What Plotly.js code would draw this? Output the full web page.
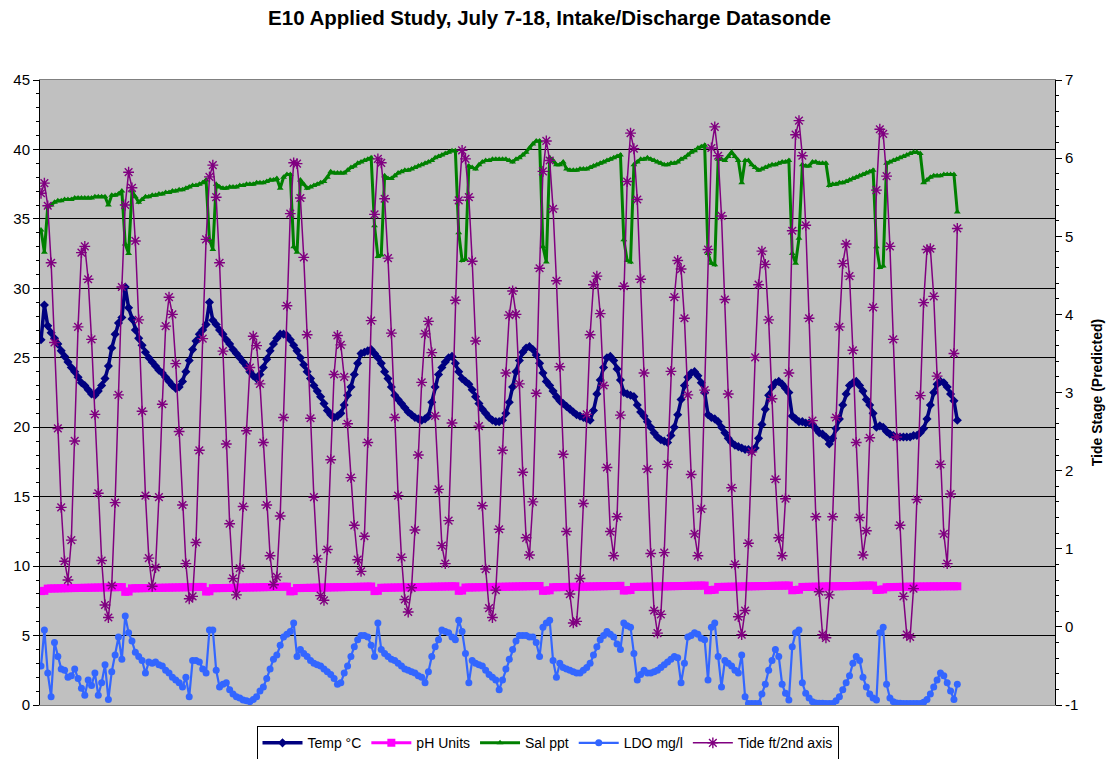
<!DOCTYPE html>
<html>
<head>
<meta charset="utf-8">
<script src="https://cdn.plot.ly/plotly-3.0.1.min.js"></script>
<style>
  html, body { margin:0; padding:0; background:#ffffff; }
  #chart { width:1113px; height:759px; }
</style>
</head>
<body>
<div id="chart"></div>
<script>
// Hourly readings, July 7-18 (index = hours since start of record)
const tideFt = [
 5.55,5.68,5.39,4.66,3.64,2.54,1.53,0.84,0.60,1.11,
 2.38,3.84,4.79,4.87,4.45,3.68,2.72,1.71,0.85,0.28,
 0.12,0.53,1.59,2.97,4.35,5.40,5.82,5.62,4.94,3.93,
 2.76,1.68,0.88,0.52,0.76,1.66,2.85,3.85,4.22,4.00,
 3.37,2.50,1.56,0.81,0.36,0.39,1.08,2.26,3.69,4.96,
 5.76,5.91,5.50,4.66,3.53,2.34,1.32,0.62,0.41,0.75,
 1.54,2.51,3.32,3.72,3.60,3.11,2.36,1.56,0.91,0.54,
 0.64,1.42,2.68,4.11,5.29,5.94,5.93,5.49,4.73,3.74,
 2.67,1.66,0.87,0.40,0.34,0.99,2.14,3.23,3.73,3.61,
 3.20,2.60,1.91,1.30,0.86,0.71,1.16,2.36,3.92,5.28,
 5.99,5.94,5.48,4.72,3.76,2.68,1.68,0.89,0.35,0.19,
 0.50,1.24,2.20,3.13,3.75,3.91,3.51,2.70,1.76,1.04,
 0.81,1.36,2.61,4.18,5.46,6.10,5.99,5.50,4.68,3.66,
 2.57,1.55,0.74,0.24,0.12,0.47,1.25,2.26,3.25,3.99,
 4.30,4.00,3.11,1.98,1.14,0.92,1.60,2.99,4.59,5.83,
 6.22,5.97,5.35,4.43,3.33,2.21,1.22,0.42,0.05,0.07,
 0.62,1.58,2.72,3.74,4.38,4.49,4.01,3.09,2.04,1.22,
 0.91,1.41,2.71,4.36,5.70,6.32,6.12,5.47,4.45,3.25,
 2.02,0.94,0.21,-0.08,0.16,0.95,2.08,3.27,4.22,4.69,
 4.58,3.95,2.97,1.95,1.19,0.91,1.51,3.03,4.83,6.13,
 6.40,6.03,5.26,4.19,2.98,1.78,0.80,0.13,-0.10,0.21,
 1.07,2.24,3.45,4.38,4.81,4.64,3.93,2.92,1.89,1.14,
 0.91,1.64,3.25,5.07,6.30,6.48,6.03,5.14,3.95,2.64,
 1.41,0.45,-0.10,-0.14,0.41,1.41,2.68,3.84,4.65,4.90,
 4.49,3.54,2.36,1.40,0.92,1.23,2.42,4.09,5.59,6.37,
 6.31,5.77,4.87,3.68,2.43,1.30,0.39,-0.10,-0.13,0.49,
 1.63,2.96,4.15,4.83,4.84,4.23,3.21,2.08,1.19,0.81,
 1.70,3.50,5.10
];

const tempC = [
 26.3,28.8,27.3,26.8,26.4,26.0,25.5,25.1,24.7,24.3,
 24.0,23.6,23.2,23.0,22.7,22.4,22.3,22.6,23.0,23.5,
 24.4,25.7,26.7,27.5,27.9,30.1,28.6,27.8,27.0,26.4,
 25.9,25.4,25.0,24.7,24.4,24.1,23.9,23.6,23.3,23.0,
 22.8,22.9,23.3,24.0,24.8,25.6,26.2,26.7,27.0,27.4,
 29.0,27.7,27.4,27.0,26.7,26.3,26.0,25.6,25.3,25.0,
 24.7,24.4,24.0,23.7,23.5,23.8,24.3,24.9,25.5,26.0,
 26.4,26.7,26.7,26.6,26.3,25.9,25.5,25.0,24.5,24.0,
 23.5,23.0,22.6,22.2,21.7,21.2,20.9,20.7,20.8,21.0,
 21.6,22.3,22.9,23.8,24.6,25.3,25.4,25.5,25.6,25.3,
 25.0,24.6,24.0,23.5,22.9,22.3,22.0,21.7,21.4,21.1,
 20.9,20.7,20.6,20.5,20.6,20.8,21.8,22.9,23.8,24.3,
 24.7,25.0,25.1,24.6,24.0,23.5,23.3,23.1,22.7,22.2,
 21.7,21.3,21.0,20.7,20.5,20.4,20.4,20.5,21.0,21.8,
 22.9,24.0,24.8,25.4,25.7,25.8,25.6,25.2,24.6,23.9,
 23.3,23.0,22.6,22.2,21.9,21.7,21.5,21.3,21.1,20.9,
 20.8,20.7,20.6,20.5,21.2,22.4,23.4,24.3,25.0,25.1,
 24.8,24.2,23.4,22.5,22.4,22.3,22.2,21.6,21.1,20.8,
 20.4,20.0,19.6,19.3,19.1,19.0,18.9,19.4,20.0,20.9,
 22.0,23.0,23.6,23.9,24.0,23.7,23.2,22.5,20.9,20.7,
 20.6,20.4,20.0,19.6,19.2,18.9,18.7,18.6,18.5,18.4,
 18.4,18.3,18.5,19.2,20.2,21.3,22.3,22.9,23.2,23.3,
 23.1,22.8,22.5,20.8,20.6,20.4,20.4,20.3,20.3,20.2,
 19.9,19.6,19.5,19.3,18.8,19.2,19.9,20.6,21.6,22.4,
 23.0,23.2,23.3,23.0,22.6,22.0,21.6,21.0,20.0,20.1,
 20.0,19.7,19.5,19.4,19.3,19.3,19.3,19.3,19.3,19.4,
 19.4,19.6,19.9,20.6,21.6,22.5,23.1,23.3,23.2,22.9,
 22.4,21.9,20.5
];

const phUnits = [
 8.20,8.22,8.38,8.39,8.39,8.40,8.40,8.41,8.41,8.42,
 8.42,8.43,8.43,8.44,8.44,8.45,8.45,8.46,8.46,8.47,
 8.47,8.48,8.48,8.49,8.49,8.15,8.17,8.40,8.40,8.41,
 8.41,8.42,8.42,8.43,8.43,8.44,8.44,8.45,8.45,8.46,
 8.46,8.47,8.47,8.48,8.48,8.49,8.49,8.50,8.50,8.17,
 8.19,8.41,8.41,8.42,8.42,8.43,8.43,8.44,8.44,8.45,
 8.45,8.46,8.46,8.47,8.47,8.48,8.48,8.49,8.49,8.50,
 8.50,8.51,8.51,8.52,8.18,8.20,8.42,8.42,8.43,8.43,
 8.44,8.44,8.45,8.45,8.46,8.46,8.47,8.47,8.48,8.48,
 8.49,8.49,8.50,8.50,8.51,8.51,8.52,8.52,8.53,8.20,
 8.22,8.44,8.44,8.45,8.45,8.46,8.46,8.47,8.47,8.48,
 8.48,8.49,8.49,8.50,8.50,8.51,8.51,8.52,8.52,8.53,
 8.53,8.54,8.54,8.55,8.22,8.24,8.46,8.46,8.47,8.47,
 8.48,8.48,8.49,8.49,8.50,8.50,8.51,8.51,8.52,8.52,
 8.53,8.53,8.54,8.54,8.55,8.55,8.56,8.56,8.57,8.22,
 8.24,8.26,8.48,8.48,8.49,8.49,8.50,8.50,8.51,8.51,
 8.52,8.52,8.53,8.53,8.54,8.54,8.55,8.55,8.56,8.56,
 8.57,8.57,8.58,8.24,8.26,8.28,8.50,8.50,8.51,8.51,
 8.52,8.52,8.53,8.53,8.54,8.54,8.55,8.55,8.56,8.56,
 8.57,8.57,8.58,8.58,8.59,8.59,8.60,8.60,8.26,8.28,
 8.30,8.50,8.50,8.51,8.51,8.52,8.52,8.53,8.53,8.54,
 8.54,8.55,8.55,8.56,8.56,8.57,8.57,8.58,8.58,8.59,
 8.59,8.60,8.60,8.26,8.28,8.30,8.50,8.50,8.51,8.51,
 8.52,8.52,8.53,8.53,8.54,8.54,8.55,8.55,8.56,8.56,
 8.57,8.57,8.58,8.58,8.59,8.59,8.60,8.60,8.28,8.30,
 8.32,8.48,8.49,8.49,8.50,8.50,8.51,8.51,8.52,8.52,
 8.52,8.53,8.53,8.53,8.54,8.54,8.54,8.54,8.55,8.55,
 8.55,8.55,8.55
];

const salPpt = [
 34.2,32.6,35.9,36.0,36.2,36.3,36.3,36.4,36.4,36.4,
 36.5,36.5,36.5,36.5,36.5,36.5,36.6,36.6,36.6,36.6,
 36.0,36.7,36.7,36.8,37.0,33.2,32.5,37.0,36.6,36.2,
 36.4,36.6,36.6,36.7,36.7,36.8,36.8,36.9,36.9,37.0,
 37.0,37.1,37.1,37.2,37.3,37.4,37.4,37.5,37.6,37.8,
 33.5,32.8,37.5,37.3,37.2,37.2,37.3,37.3,37.3,37.4,
 37.4,37.5,37.5,37.5,37.6,37.6,37.6,37.7,37.8,37.8,
 37.9,37.2,38.0,38.2,38.2,33.0,32.6,37.8,37.5,37.2,
 37.3,37.4,37.5,37.6,37.7,38.0,38.4,38.3,38.3,38.3,
 38.3,38.5,38.7,38.8,39.0,39.1,39.2,39.3,39.4,34.5,
 32.3,32.4,38.1,37.9,37.9,38.1,38.3,38.4,38.5,38.5,
 38.6,38.7,38.8,38.9,39.0,39.1,39.2,39.4,39.5,39.6,
 39.7,39.8,39.9,39.9,34.0,32.0,32.1,38.8,38.7,38.6,
 38.9,39.1,39.2,39.2,39.3,39.3,39.3,39.3,39.3,39.2,
 39.1,39.3,39.4,39.6,39.8,40.1,40.4,40.6,40.6,33.0,
 31.9,39.4,39.2,38.9,38.9,39.1,38.6,38.5,38.5,38.5,
 38.6,38.6,38.6,38.7,38.8,38.9,39.0,39.1,39.2,39.3,
 39.4,39.5,39.6,33.5,32.0,31.9,38.9,39.1,39.3,39.3,
 39.4,39.3,39.2,39.1,39.0,38.9,38.9,39.0,39.0,39.1,
 39.3,39.4,39.6,39.8,39.9,40.1,40.2,40.3,32.5,31.8,
 31.7,39.3,39.3,39.2,39.5,39.8,39.5,39.2,37.6,39.2,
 39.2,38.9,38.7,38.5,38.6,38.7,38.8,38.9,38.9,39.0,
 39.1,39.1,39.2,32.5,31.8,33.6,38.9,38.8,38.8,39.1,
 39.1,39.0,39.0,39.0,37.4,37.5,37.5,37.6,37.6,37.7,
 37.8,37.9,38.0,38.1,38.2,38.3,38.4,38.5,33.0,31.5,
 31.6,39.0,39.1,39.2,39.3,39.4,39.5,39.6,39.7,39.8,
 39.8,39.7,37.6,37.8,38.0,38.1,38.1,38.1,38.2,38.2,
 38.2,38.2,35.5
];

const ldoMgL = [
 2.8,5.4,2.3,0.6,4.5,3.5,2.6,2.5,2.0,2.1,
 2.6,1.9,1.2,0.7,1.8,1.4,2.3,0.7,1.6,2.9,
 0.4,2.4,3.6,4.9,3.3,6.4,5.2,4.6,3.8,3.5,
 3.2,2.3,3.1,3.0,3.1,2.9,2.8,2.5,2.3,2.0,
 1.8,1.6,1.3,2.0,0.6,3.2,3.2,3.1,2.6,2.3,
 5.4,5.4,2.5,1.3,1.5,1.6,1.1,0.8,0.6,0.5,
 0.36,0.3,0.24,0.4,0.6,1.0,1.3,1.9,2.6,3.3,
 3.6,4.3,4.9,5.1,5.3,5.9,3.5,4.0,3.7,3.5,
 3.2,3.0,2.9,2.8,2.6,2.4,2.2,1.9,1.5,1.6,
 2.3,2.8,3.5,4.2,4.7,5.0,5.0,4.9,4.3,3.5,
 5.9,4.0,3.7,3.5,3.3,3.2,3.0,2.8,2.6,2.5,
 2.4,2.3,2.1,2.0,1.6,2.4,3.5,4.2,4.7,5.4,
 5.3,5.2,4.9,4.7,6.1,5.3,3.7,1.6,3.2,3.0,
 2.9,2.8,2.5,2.2,2.0,1.8,1.1,1.8,2.6,3.3,
 4.0,4.6,5.0,5.0,5.0,4.9,4.9,4.5,3.5,5.6,
 5.9,6.1,3.2,2.0,3.0,2.7,2.6,2.5,2.4,2.3,
 2.3,2.5,2.7,3.0,3.6,4.2,4.7,5.0,5.3,5.1,
 4.9,4.4,4.0,5.9,5.7,5.6,3.7,1.8,2.2,2.5,
 2.3,2.3,2.4,2.5,2.7,2.9,3.1,3.3,3.5,3.4,
 1.6,3.0,4.9,5.0,5.2,5.1,4.8,4.7,1.8,5.6,
 5.9,3.5,1.3,3.2,3.0,2.8,2.5,2.3,3.6,0.6,
 0.1,0.1,0.1,0.1,0.8,1.5,2.5,3.2,4.0,3.5,
 1.5,0.84,0.36,4.2,5.2,5.4,1.6,0.84,0.5,0.24,
 0.15,0.12,0.12,0.1,0.1,0.1,0.3,0.6,1.1,1.6,
 2.1,3.0,3.5,3.2,2.0,1.3,0.8,0.5,0.36,5.2,
 5.6,1.5,0.5,0.24,0.15,0.12,0.1,0.1,0.1,0.1,
 0.1,0.1,0.2,0.4,0.8,1.3,1.8,2.3,2.1,1.6,
 1.0,0.4,1.5
];

const seriesNames = ['Temp °C', 'pH Units', 'Sal ppt', 'LDO mg/l', 'Tide ft/2nd axis'];
const titleText = 'E10 Applied Study, July 7-18, Intake/Discharge Datasonde';
const rightAxisTitle = 'Tide Stage (Predicted)';
const rightTickVals = [-1, 0, 1, 2, 3, 4, 5, 6, 7];
const rightTickText = ['-1', '0', '1', '2', '3', '4', '5', '6', '7'];

const hours = tideFt.map((_, i) => i);

function series(name, y, color, symbol, size, lineWidth) {
  return {
    type: 'scatter', mode: 'lines+markers', name: name,
    x: hours, y: y,
    line: { color: color, width: lineWidth },
    marker: { color: color, symbol: symbol, size: size, line: { width: 0 } }
  };
}

const traces = [
  series(seriesNames[0], tempC, '#000080', 'diamond', 7, 3.5),
  series(seriesNames[1], phUnits, '#ff00ff', 'square', 8, 3),
  series(seriesNames[2], salPpt, '#008000', 'triangle-up', 6, 3),
  series(seriesNames[3], ldoMgL, '#3366ff', 'circle', 7, 2.2),
  {
    type: 'scatter', mode: 'lines+markers', name: seriesNames[4],
    x: hours, y: tideFt, yaxis: 'y2',
    line: { color: '#800080', width: 1.5 },
    marker: { color: '#800080', symbol: 'asterisk-open', size: 9, line: { color: '#800080', width: 1.4 } }
  }
];

const layout = {
  width: 1113, height: 759,
  margin: { l: 40, r: 58, t: 80, b: 54, autoexpand: false },
  paper_bgcolor: '#ffffff',
  plot_bgcolor: '#c0c0c0',
  font: { family: 'Arial, "Liberation Sans", sans-serif', color: '#000000', size: 14 },
  title: {
    text: '<b>' + titleText + '</b>',
    x: 0.4937, xanchor: 'center', xref: 'container',
    y: 0.976, yanchor: 'middle', yref: 'container',
    font: { size: 20.5, color: '#000000' }
  },
  showlegend: true,
  legend: {
    orientation: 'h', x: 0.5, xanchor: 'center', y: -0.034, yanchor: 'top',
    bgcolor: '#ffffff', bordercolor: '#000000', borderwidth: 1,
    font: { size: 14 }, itemwidth: 40, traceorder: 'normal'
  },
  xaxis: {
    range: [-0.3, 301], showticklabels: false, ticks: '', showgrid: false,
    zeroline: false, showline: true, linecolor: '#808080', linewidth: 1, mirror: true,
    fixedrange: true
  },
  yaxis: {
    range: [0, 45], tick0: 0, dtick: 5, ticks: 'outside', ticklen: 6, tickcolor: '#000000',
    showline: true, linecolor: '#000000', linewidth: 1,
    showgrid: true, gridcolor: '#000000', gridwidth: 1, zeroline: false,
    tickfont: { size: 15 },
    minor: { dtick: 1, ticks: 'outside', ticklen: 3, tickcolor: '#000000', showgrid: false }
  },
  yaxis2: {
    range: [-1, 7], tickmode: 'array', tickvals: rightTickVals, ticktext: rightTickText,
    overlaying: 'y', side: 'right',
    ticks: 'outside', ticklen: 6, tickcolor: '#000000',
    showline: true, linecolor: '#000000', linewidth: 1,
    showgrid: false, zeroline: false,
    tickfont: { size: 15 },
    minor: { tickmode: 'linear', tick0: -1, dtick: 0.2, ticks: 'outside', ticklen: 3, tickcolor: '#000000', showgrid: false },
    title: { text: '<b>' + rightAxisTitle + '</b>', font: { size: 14 }, standoff: 14 }
  }
};

Plotly.newPlot('chart', traces, layout, { displayModeBar: false, staticPlot: true });
</script>
</body>
</html>
